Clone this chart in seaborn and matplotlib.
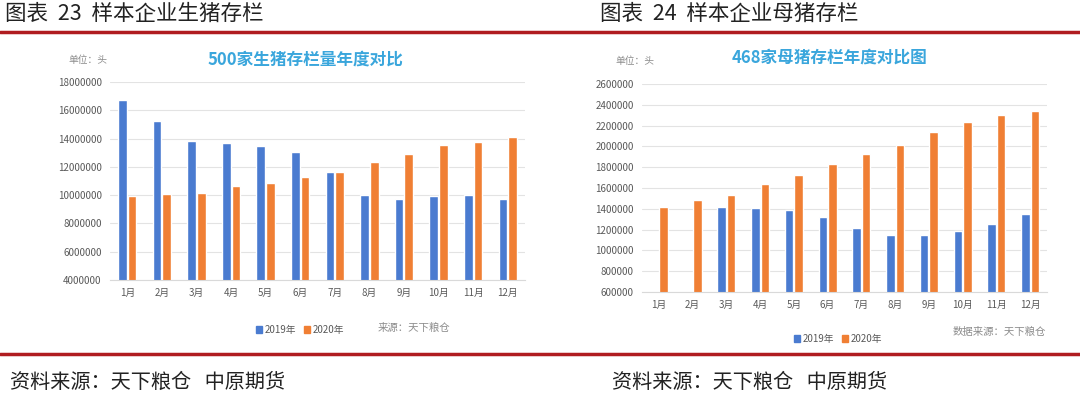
import numpy as np
import pandas as pd
import matplotlib.pyplot as plt
import seaborn as sns
from matplotlib.patches import Patch

months = ['1月', '2月', '3月', '4月', '5月', '6月', '7月', '8月', '9月', '10月', '11月', '12月']
years = ['2019年', '2020年']

# 500家生猪存栏量 (头)
hog_2019 = [16700000, 15270000, 13830000, 13690000, 13500000, 13050000,
            11660000, 9990000, 9750000, 9920000, 9990000, 9750000]
hog_2020 = [9920000, 10080000, 10150000, 10650000, 10880000, 11310000,
            11660000, 12320000, 12910000, 13520000, 13760000, 14130000]

# 468家母猪存栏 (头)
sow_2019 = [np.nan, np.nan, 1422000, 1403000, 1387000, 1323000,
            1214000, 1150000, 1150000, 1182000, 1256000, 1349000]
sow_2020 = [1413000, 1480000, 1528000, 1637000, 1726000, 1826000,
            1925000, 2014000, 2142000, 2238000, 2306000, 2344000]

palette = {'2019年': '#4a7bd0', '2020年': '#f07f34'}
red = '#b01c20'
grey = '#595959'


def long_df(a, b):
    return pd.DataFrame({
        '月份': months * 2,
        '年份': [years[0]] * 12 + [years[1]] * 12,
        '存栏': list(a) + list(b),
    })


sns.set_theme(style='white')
plt.rcParams['font.family'] = ['Noto Sans CJK SC', 'DejaVu Sans']

W, H = 1080, 397
fig = plt.figure(figsize=(W / 100, H / 100), dpi=100)


def px_axes(x0, y0, x1, y1):
    return fig.add_axes([x0 / W, 1 - y1 / H, (x1 - x0) / W, (y1 - y0) / H])


def style_axes(ax, lo, hi, step):
    ax.set_ylim(lo, hi)
    ax.set_yticks(np.arange(lo, hi + 1, step))
    ax.set_yticklabels([f'{int(v)}' for v in np.arange(lo, hi + 1, step)])
    ax.set_xlim(-0.5, 11.5)
    ax.set_xlabel('')
    ax.set_ylabel('')
    ax.tick_params(axis='both', length=0, labelsize=7, labelcolor=grey, pad=6)
    ax.grid(axis='y', color='#e3e3e3', lw=0.8)
    ax.set_axisbelow(True)
    for s in ['top', 'right', 'left']:
        ax.spines[s].set_visible(False)
    ax.spines['bottom'].set_color('#d9d9d9')
    ax.spines['bottom'].set_linewidth(0.8)
    if ax.get_legend():
        ax.get_legend().remove()


# left chart
ax1 = px_axes(110, 82, 525, 280)
sns.barplot(data=long_df(hog_2019, hog_2020), x='月份', y='存栏', hue='年份',
            palette=palette, width=0.56, gap=0.1, ax=ax1, saturation=1)
style_axes(ax1, 4000000, 18000000, 2000000)

# right chart
ax2 = px_axes(642, 84, 1047, 292)
sns.barplot(data=long_df(sow_2019, sow_2020), x='月份', y='存栏', hue='年份',
            palette=palette, width=0.56, gap=0.1, ax=ax2, saturation=1)
style_axes(ax2, 600000, 2600000, 200000)

# headings and rules
head = dict(fontsize=15.5, va='center', color='#222222')
fig.text(5 / W, 1 - 14 / H, '图表  23  样本企业生猪存栏', **head)
fig.text(600 / W, 1 - 14 / H, '图表  24  样本企业母猪存栏', **head)
fig.add_artist(plt.Line2D([0, 1], [1 - 32 / H] * 2, color=red, lw=2.5))
fig.add_artist(plt.Line2D([0, 1], [1 - 354 / H] * 2, color=red, lw=2.5))
foot = dict(fontsize=14.5, va='center', color='#222222')
fig.text(10 / W, 1 - 382 / H, '资料来源：天下粮仓   中原期货', **foot)
fig.text(612 / W, 1 - 382 / H, '资料来源：天下粮仓   中原期货', **foot)

# chart titles and notes
fig.text(305 / W, 1 - 60 / H, '500家生猪存栏量年度对比', fontsize=12, fontweight='bold',
         color='#3aa6dc', ha='center', va='center')
fig.text(830 / W, 1 - 58 / H, '468家母猪存栏年度对比图', fontsize=12, fontweight='bold',
         color='#3aa6dc', ha='center', va='center')
fig.text(68 / W, 1 - 60 / H, '单位：头', fontsize=7, style='italic', color='#8c8c8c', va='center')
fig.text(615 / W, 1 - 61 / H, '单位：头', fontsize=7, style='italic', color='#8c8c8c', va='center')
fig.text(378 / W, 1 - 328 / H, '来源：天下粮仓', fontsize=7.5, style='italic', color='#8c8c8c', va='center')
fig.text(1046 / W, 1 - 332 / H, '数据来源：天下粮仓', fontsize=7.5, style='italic', color='#8c8c8c',
         va='center', ha='right')

handles = [Patch(color=palette[y]) for y in years]
for cx, cy in [(300, 330), (838, 339)]:
    fig.legend(handles, years, loc='center', bbox_to_anchor=(cx / W, 1 - cy / H), ncol=2,
               frameon=False, fontsize=7, handlelength=0.6, handleheight=0.6,
               handletextpad=0.3, columnspacing=0.8, labelcolor=grey)

fig.savefig('out.png', dpi=100)
